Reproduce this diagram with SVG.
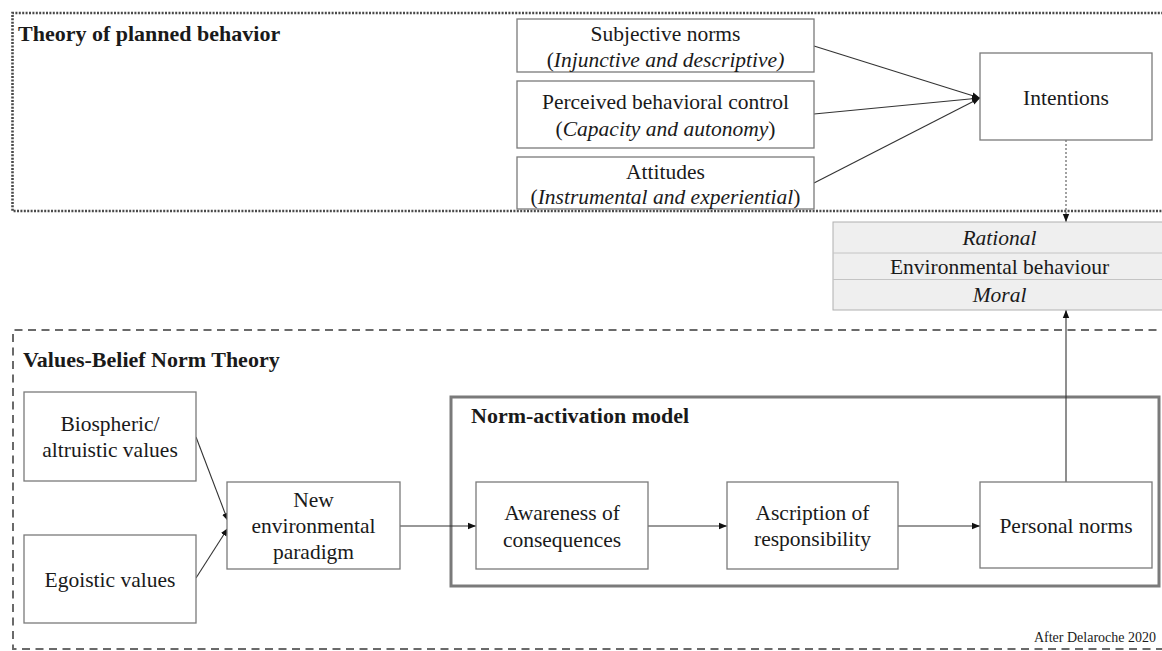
<svg xmlns="http://www.w3.org/2000/svg" width="1162" height="651" viewBox="0 0 1162 651">
<style>
  text { font-family: "Liberation Serif", "Times New Roman", serif; fill: #1a1a1a; }
  .t { font-size: 21.5px; text-anchor: middle; }
  .it { font-style: italic; }
  .title { font-size: 22px; font-weight: bold; }
  .box { fill: #ffffff; stroke: #7a7a7a; stroke-width: 1.3; }
  .conn { fill: none; stroke: #333333; stroke-width: 1.1; }
  .dotconn { fill: none; stroke: #555555; stroke-width: 1.1; stroke-dasharray: 2 2; }
</style>
<defs>
  <marker id="arr" viewBox="0 0 10 10" refX="10" refY="5" markerWidth="8" markerHeight="8" markerUnits="userSpaceOnUse" orient="auto">
    <path d="M0,1 L10,5 L0,9 z" fill="#111111"/>
  </marker>
</defs>
<rect x="0" y="0" width="1162" height="651" fill="#ffffff"/>

<g id="tpb-frame">
  <path d="M1170,13 H12.5 V211 H1170" fill="none" stroke="#4a4a4a" stroke-width="2.6" stroke-dasharray="2 1.4"/>
  <text class="title" x="18" y="41">Theory of planned behavior</text>
</g>

<g id="vbn-frame">
  <path d="M1170,330 H13 V649 H1170" fill="none" stroke="#6a6a6a" stroke-width="2" stroke-dasharray="8 5.5"/>
  <text class="title" x="23" y="367">Values-Belief Norm Theory</text>
</g>

<g id="nam-frame">
  <rect x="451" y="397" width="708" height="189" fill="none" stroke="#7a7a7a" stroke-width="3"/>
  <text class="title" x="471" y="423">Norm-activation model</text>
</g>

<g id="connectors">
  <line class="conn" x1="814" y1="46" x2="980" y2="98" marker-end="url(#arr)"/>
  <line class="conn" x1="814" y1="114" x2="980" y2="98" marker-end="url(#arr)"/>
  <line class="conn" x1="814" y1="183" x2="980" y2="98" marker-end="url(#arr)"/>
  <line class="dotconn" x1="1066" y1="140" x2="1066" y2="222" marker-end="url(#arr)"/>
  <line class="conn" x1="1066" y1="482" x2="1066" y2="310" marker-end="url(#arr)"/>
  <line class="conn" x1="196" y1="437" x2="228" y2="521" marker-end="url(#arr)"/>
  <line class="conn" x1="196" y1="578" x2="228" y2="528" marker-end="url(#arr)"/>
  <line class="conn" x1="400" y1="526" x2="476" y2="526" marker-end="url(#arr)"/>
  <line class="conn" x1="648" y1="526" x2="727" y2="526" marker-end="url(#arr)"/>
  <line class="conn" x1="898" y1="526" x2="980" y2="526" marker-end="url(#arr)"/>
</g>

<g id="subjective-norms">
  <rect class="box" x="517" y="19" width="297" height="53"/>
  <text class="t" x="665.5" y="41">Subjective norms</text>
  <text class="t" x="665.5" y="67">(<tspan class="it">Injunctive and descriptive)</tspan></text>
</g>

<g id="perceived-control">
  <rect class="box" x="517" y="81" width="297" height="67"/>
  <text class="t" x="665.5" y="109">Perceived behavioral control</text>
  <text class="t" x="665.5" y="136">(<tspan class="it">Capacity and autonomy</tspan>)</text>
</g>

<g id="attitudes">
  <rect class="box" x="517" y="157" width="297" height="52"/>
  <text class="t" x="665.5" y="179">Attitudes</text>
  <text class="t" x="665.5" y="204">(<tspan class="it">Instrumental and experiential</tspan>)</text>
</g>

<g id="intentions">
  <rect class="box" x="980" y="53" width="172" height="87"/>
  <text class="t" x="1066" y="105">Intentions</text>
</g>

<g id="environmental-behaviour">
  <rect x="833" y="222" width="335" height="88" fill="#efefef" stroke="#b0b0b0" stroke-width="1"/>
  <line x1="833" y1="253" x2="1168" y2="253" stroke="#c4c4c4" stroke-width="1"/>
  <line x1="833" y1="279.5" x2="1168" y2="279.5" stroke="#c4c4c4" stroke-width="1"/>
  <text class="t it" x="999.5" y="245">Rational</text>
  <text class="t" x="999.5" y="274">Environmental behaviour</text>
  <text class="t it" x="999.5" y="302">Moral</text>
</g>

<g id="biospheric-values">
  <rect class="box" x="24" y="392" width="172" height="89"/>
  <text class="t" x="110" y="431">Biospheric/</text>
  <text class="t" x="110" y="457">altruistic values</text>
</g>

<g id="egoistic-values">
  <rect class="box" x="24" y="535" width="172" height="88"/>
  <text class="t" x="110" y="587">Egoistic values</text>
</g>

<g id="new-environmental-paradigm">
  <rect class="box" x="227" y="482" width="173" height="87"/>
  <text class="t" x="313.5" y="507">New</text>
  <text class="t" x="313.5" y="533">environmental</text>
  <text class="t" x="313.5" y="559">paradigm</text>
</g>

<g id="awareness-of-consequences">
  <rect class="box" x="476" y="482" width="172" height="87"/>
  <text class="t" x="562" y="520">Awareness of</text>
  <text class="t" x="562" y="547">consequences</text>
</g>

<g id="ascription-of-responsibility">
  <rect class="box" x="727" y="482" width="171" height="87"/>
  <text class="t" x="812.5" y="520">Ascription of</text>
  <text class="t" x="812.5" y="546">responsibility</text>
</g>

<g id="personal-norms">
  <rect class="box" x="980" y="482" width="172" height="86"/>
  <text class="t" x="1066" y="533">Personal norms</text>
</g>

<g id="credit">
  <text x="1156" y="642" font-size="14" text-anchor="end">After Delaroche 2020</text>
</g>
</svg>
